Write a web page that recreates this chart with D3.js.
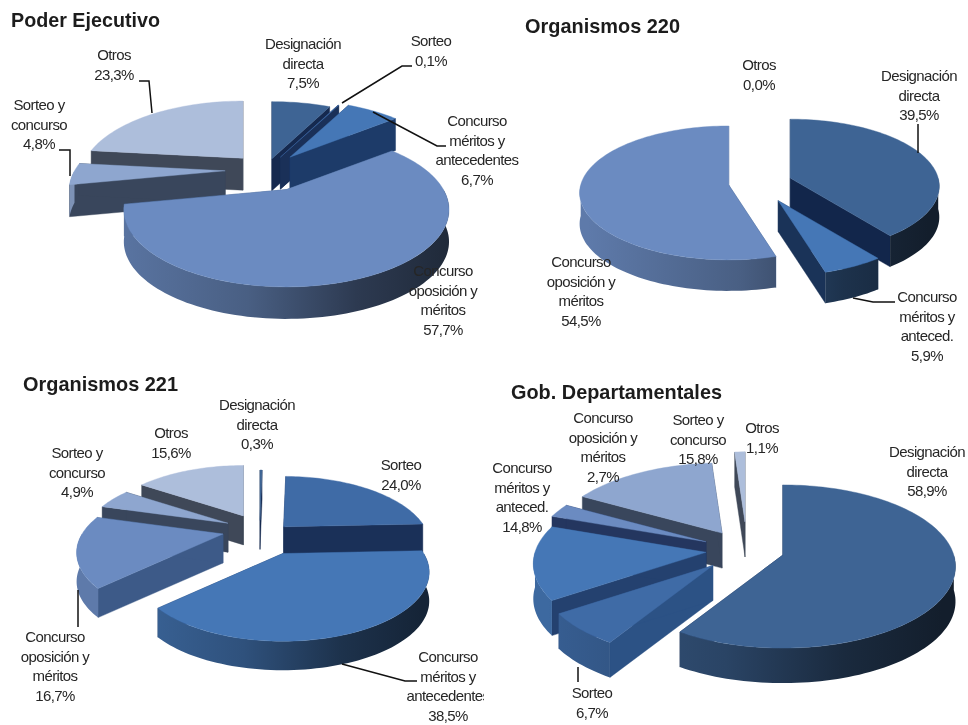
<!DOCTYPE html>
<html><head><meta charset="utf-8">
<script src="https://cdn.jsdelivr.net/npm/d3@7/dist/d3.min.js"></script>
<style>html,body{margin:0;padding:0;background:#fff}svg{display:block;filter:blur(.35px)}
.lab{font-family:"Liberation Sans",Arial,sans-serif;font-size:15px;letter-spacing:-.6px;fill:#262626;text-anchor:middle}
.tit{font-family:"Liberation Sans",Arial,sans-serif;font-size:21px;font-weight:700;fill:#1c1c1c}
</style></head><body><svg id="c" width="968" height="725"></svg>
<script>
// ---- data ----
const categories = ["Designación directa","Sorteo","Concurso méritos y antecedentes","Concurso oposición y méritos","Sorteo y concurso","Otros"];
const poderEjecutivo = [7.5,0.1,6.7,57.7,4.8,23.3];
const organismos220 = [39.5,0,5.9,54.5,0,0.0];
const organismos221 = [0.3,24.0,38.5,16.7,4.9,15.6];
const gobDepartamentales = [58.9,6.7,14.8,2.7,15.8,1.1];
const panelTitles = ["Poder Ejecutivo","Organismos 220","Organismos 221","Gob. Departamentales"];

// ---- styles ----
const topColors = ["#3e6494","#3f6ba6","#4577b6","#6b8bc1","#8ea6cf","#adbedb"];
const radialColors = ["#15294f","#1a3058","#1d3b69","#3d5a88","#39465c","#3f4858"];

// ---- layout ----
const panels = [
 {values:poderEjecutivo,cx:266,cy:170,rx:157,ry:72,k:.26,depth:32,
  ex:[.16,.2,.24,.31,.26,.22],ey:[.16,.2,.23,.3,.26,.22],rs:{4:.96},
  title:{x:11,y:27,w:149},
  labels:[
   {x:303,y:44,t:["Designación","directa","7,5%"]},
   {x:431,y:41,t:["Sorteo","0,1%"]},
   {x:477,y:121,t:["Concurso","méritos y","antecedentes","6,7%"]},
   {x:443,y:271,t:["Concurso","oposición y","méritos","57,7%"]},
   {x:39,y:105,t:["Sorteo y","concurso","4,8%"]},
   {x:114,y:55,t:["Otros","23,3%"]}],
  leaders:[[[342,103],[402,66],[412,66]],[[373,112],[437,146],[446,146]],[[139,81],[149,81],[152,113]],[[59,150],[70,150],[70,176]]]},
 {values:organismos220,cx:758,cy:183,rx:148,ry:66,k:.12,depth:31,
  ex:[.23,0,.3,.2,0,0],ey:[.23,0,.3,.2,0,0],radial:{0:"#12264b",2:"#1a3358"},
  title:{x:525,y:33,w:155},
  labels:[
   {x:759,y:65,t:["Otros","0,0%"]},
   {x:919,y:76,t:["Designación","directa","39,5%"]},
   {x:927,y:297,t:["Concurso","méritos y","anteced.","5,9%"]},
   {x:581,y:262,t:["Concurso","oposición y","méritos","54,5%"]}],
  leaders:[[[918,124],[918,153]],[[853,298],[873,302],[895,302]]]},
 {values:organismos221,cx:260,cy:530,rx:141,ry:64,k:.27,depth:29,
  ex:[0,.24,.41,.27,.25,.25],ey:[.15,.07,.4,.26,.25,.25],
  title:{x:23,y:391,w:155},
  labels:[
   {x:257,y:405,t:["Designación","directa","0,3%"]},
   {x:171,y:433,t:["Otros","15,6%"]},
   {x:77,y:453,t:["Sorteo y","concurso","4,9%"]},
   {x:401,y:465,t:["Sorteo","24,0%"]},
   {x:55,y:637,t:["Concurso","oposición y","méritos","16,7%"]},
   {x:448,y:657,t:["Concurso","méritos y","antecedentes","38,5%"],clip:true}],
  leaders:[[[78,590],[78,627]],[[342,664],[405,681],[417,681]]]},
 {values:gobDepartamentales,cx:745,cy:550,rx:171,ry:80,k:.14,depth:35,
  ex:[.23,.27,.23,.25,.25,0],ey:[.23,.27,.23,.25,.25,.35],radial:{1:"#2c5285",2:"#24416f",3:"#24365f"},
  title:{x:511,y:399,w:211},
  labels:[
   {x:603,y:418,t:["Concurso","oposición y","méritos","2,7%"]},
   {x:698,y:420,t:["Sorteo y","concurso","15,8%"]},
   {x:762,y:428,t:["Otros","1,1%"]},
   {x:927,y:452,t:["Designación","directa","58,9%"]},
   {x:522,y:468,t:["Concurso","méritos y","anteced.","14,8%"]},
   {x:592,y:693,t:["Sorteo","6,7%"]}],
  leaders:[[[578,667],[578,682]]]}
];
const lineStep = 19.6;

const svg = d3.select("#c");
const defs = svg.append("defs");
defs.append("clipPath").attr("id","cutRight").append("rect").attr("x",0).attr("y",0).attr("width",484).attr("height",725);

const pie = d3.pie().sort(null).value(d=>d.value);
const lineGen = d3.line();

panels.forEach((p,pi)=>{
  const g = svg.append("g");
  const sc = y=>1/(1-p.k*y);
  const arcs = pie(p.values.map((value,i)=>({value,i}))).filter(a=>a.data.value>0);

  // project a point in the unit disc of one slice to the page
  const proj = (a,x,y,z)=>{
    const mid=(a.startAngle+a.endAngle)/2, i=a.data.i, r=(p.rs&&p.rs[i])||1;
    const ax=p.cx+p.ex[i]*Math.sin(mid)*p.rx, ay=p.cy-p.ey[i]*Math.cos(mid)*p.ry;
    const s=sc(y)*r;
    return [ax+p.rx*x*s, ay+p.ry*y*s+p.depth*z];
  };
  const rim=(a,t,z)=>proj(a,Math.sin(t),-Math.cos(t),z);
  const samples=(a0,a1)=>{const n=Math.max(2,Math.ceil((a1-a0)/0.03));return d3.range(n+1).map(j=>a0+(a1-a0)*j/n);};

  // back to front
  arcs.sort((a,b)=>Math.cos(b.startAngle/2+b.endAngle/2)-Math.cos(a.startAngle/2+a.endAngle/2));

  arcs.forEach(a=>{
    const i=a.data.i, top=d3.rgb(topColors[i]);
    const wall=(p.radial&&p.radial[i])||radialColors[i];
    // outer wall gradient: light from left
    const id=`w${pi}_${i}`;
    const mul=m=>d3.rgb(top.r*m,top.g*m,top.b*m).formatHex();
    const gr=defs.append("linearGradient").attr("id",id).attr("gradientUnits","userSpaceOnUse")
      .attr("x1",p.cx-p.rx*1.15).attr("x2",p.cx+p.rx*1.15).attr("y1",0).attr("y2",0);
    [[0,.88],[.45,.68],[.75,.42],[1,.3]].forEach(([o,m])=>gr.append("stop").attr("offset",o).attr("stop-color",mul(m)));

    // radial walls
    [a.startAngle,a.endAngle].forEach(t=>{
      const pts=[proj(a,0,0,0),rim(a,t,0),rim(a,t,1),proj(a,0,0,1)];
      g.append("path").attr("d",lineGen(pts)+"Z").attr("fill",wall).attr("stroke",wall).attr("stroke-width",.4);
    });
    // outer wall: only the part facing the viewer
    const t0=Math.max(a.startAngle,Math.PI/2), t1=Math.min(a.endAngle,Math.PI*1.5);
    if(t1>t0){
      const ts=samples(t0,t1);
      const pts=ts.map(t=>rim(a,t,0)).concat(ts.slice().reverse().map(t=>rim(a,t,1)));
      g.append("path").attr("d",lineGen(pts)+"Z").attr("fill",`url(#${id})`);
    }
    // top face
    const pts=[proj(a,0,0,0)].concat(samples(a.startAngle,a.endAngle).map(t=>rim(a,t,0)));
    g.append("path").attr("d",lineGen(pts)+"Z").attr("fill",topColors[i]).attr("stroke",topColors[i]).attr("stroke-width",.4);
  });

  // leaders
  g.selectAll("path.lead").data(p.leaders).join("path").attr("class","lead")
    .attr("d",d=>lineGen(d)).attr("fill","none").attr("stroke","#111").attr("stroke-width",1.5);

  // labels
  p.labels.forEach(l=>{
    const tx=g.append("text").attr("class","lab");
    if(l.clip) tx.attr("clip-path","url(#cutRight)");
    l.t.forEach((s,j)=>tx.append("tspan").attr("x",l.x).attr("y",l.y+5+j*lineStep).text(s));
  });

  g.append("text").attr("class","tit").attr("x",p.title.x).attr("y",p.title.y)
    .attr("textLength",p.title.w).attr("lengthAdjust","spacingAndGlyphs").text(panelTitles[pi]);
});
</script></body></html>
